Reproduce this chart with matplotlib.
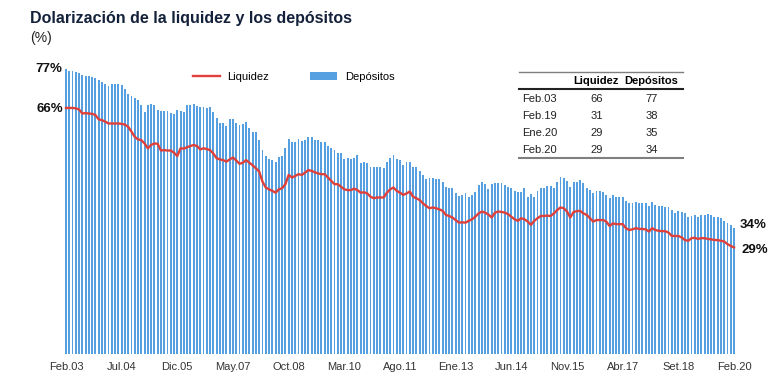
### Dolarizacion de la liquidez y los depositos (monthly, Feb.03 - Feb.20)

### IMPORTING LIBRARIES ###
import matplotlib
matplotlib.use("Agg")
import matplotlib.pyplot as plt
from matplotlib.lines import Line2D

### DATA ###
tick_labels = ["Feb.03", "Jul.04", "Dic.05", "May.07", "Oct.08", "Mar.10", "Ago.11",
               "Ene.13", "Jun.14", "Nov.15", "Abr.17", "Set.18", "Feb.20"]

# deposit dollarization (%), one value per month
depositos = [
    77.0, 76.6, 76.5, 76.3, 75.9, 75.3, 75.2, 75.1, 74.9, 74.7,
    74.0, 73.4, 73.1, 72.5, 73.1, 73.1, 73.1, 72.6, 71.7, 70.2,
    69.6, 69.2, 68.7, 67.2, 65.4, 67.4, 67.7, 67.2, 66.0, 65.7,
    65.7, 65.8, 65.2, 64.8, 66.0, 65.8, 65.4, 67.2, 67.4, 67.5,
    67.0, 66.8, 66.7, 66.4, 66.7, 65.4, 63.7, 62.5, 62.5, 61.6,
    63.4, 63.4, 62.3, 62.0, 62.1, 62.6, 61.2, 59.9, 60.1, 57.8,
    55.1, 53.5, 52.7, 52.3, 52.0, 53.3, 53.5, 55.8, 58.1, 57.4,
    57.2, 58.0, 57.7, 57.8, 58.7, 58.6, 57.8, 57.8, 57.4, 57.4,
    56.3, 55.6, 55.1, 54.4, 54.2, 52.6, 52.9, 52.6, 52.9, 53.8,
    51.7, 52.0, 51.7, 50.5, 50.6, 50.6, 50.6, 50.2, 52.0, 52.9,
    53.8, 52.6, 52.3, 51.1, 52.0, 52.0, 50.6, 50.5, 49.5, 48.4,
    47.2, 47.5, 47.5, 47.4, 47.3, 46.6, 45.2, 45.0, 44.9, 43.6,
    42.7, 43.0, 43.4, 42.3, 43.0, 43.7, 45.7, 46.4, 45.9, 44.5,
    45.9, 46.1, 46.1, 46.1, 45.7, 45.2, 44.9, 44.1, 43.9, 43.9,
    44.8, 42.5, 43.2, 42.3, 44.1, 44.8, 44.9, 45.4, 45.5, 45.0,
    46.6, 47.9, 47.7, 46.8, 45.2, 46.6, 46.5, 47.0, 46.1, 45.0,
    44.3, 43.4, 44.1, 44.1, 43.9, 43.0, 42.1, 43.0, 42.5, 42.3,
    42.3, 41.4, 40.7, 40.9, 41.2, 40.7, 40.7, 40.7, 40.1, 41.0,
    40.3, 40.1, 40.0, 39.8, 39.6, 38.9, 38.2, 38.6, 38.3, 38.0,
    37.1, 37.4, 37.6, 37.1, 37.7, 37.7, 37.8, 37.6, 37.1, 36.9,
    36.7, 35.9, 35.4, 35.0, 34.0,
]

# liquidity dollarization (%), one value per month
liquidez = [
    66.5, 66.5, 66.5, 66.4, 66.1, 65.0, 65.1, 65.0, 64.9, 64.6,
    63.4, 63.2, 62.8, 62.3, 62.3, 62.3, 62.3, 62.2, 62.0, 61.4,
    60.1, 58.7, 58.0, 57.8, 56.9, 55.6, 56.5, 56.9, 56.8, 55.0,
    55.1, 55.0, 55.0, 54.4, 53.5, 55.6, 55.5, 55.9, 56.2, 56.5,
    56.2, 55.3, 55.6, 55.4, 55.1, 54.2, 52.9, 52.6, 52.4, 52.0,
    52.6, 53.1, 52.3, 51.4, 51.7, 52.4, 51.7, 51.0, 50.2, 49.3,
    46.6, 45.0, 44.5, 44.1, 43.6, 44.5, 44.8, 45.9, 48.4, 47.7,
    48.1, 48.6, 48.4, 49.0, 49.7, 49.5, 49.1, 48.8, 48.6, 48.6,
    47.7, 46.8, 45.9, 45.9, 45.2, 44.5, 44.3, 44.3, 44.7, 44.3,
    43.6, 43.7, 43.4, 42.5, 42.1, 42.3, 42.3, 42.3, 43.6, 44.5,
    45.0, 44.1, 43.6, 43.0, 43.4, 43.9, 42.5, 42.1, 41.6, 40.7,
    40.0, 39.4, 39.6, 39.4, 39.1, 38.7, 37.6, 37.3, 36.9, 36.2,
    35.5, 35.6, 35.5, 36.0, 36.4, 37.1, 38.0, 38.5, 38.2, 37.7,
    36.9, 38.2, 38.5, 38.4, 38.2, 37.8, 37.1, 36.4, 36.0, 36.7,
    36.4, 35.8, 34.9, 36.0, 36.7, 37.3, 37.3, 37.4, 37.3, 38.0,
    38.9, 39.6, 39.4, 38.5, 36.9, 38.4, 38.6, 38.7, 38.0, 37.6,
    36.7, 35.8, 36.2, 36.2, 36.2, 35.8, 34.6, 35.3, 35.1, 35.1,
    35.1, 34.0, 33.5, 33.7, 34.0, 33.8, 33.8, 33.7, 33.1, 34.0,
    33.5, 33.3, 33.2, 33.2, 32.8, 31.9, 31.9, 31.9, 31.5, 30.8,
    30.6, 31.3, 31.4, 31.1, 31.3, 31.3, 31.1, 31.0, 30.8, 30.8,
    30.6, 30.4, 29.7, 29.2, 28.8,
]

table_rows = ["Feb.03", "Feb.19", "Ene.20", "Feb.20"]
table_liq = [66, 31, 29, 29]
table_dep = [77, 38, 35, 34]

### FIGURE SETUP ###
W, H = 780, 385
plt.rcParams['font.family'] = ['Liberation Sans', 'DejaVu Sans']

def fx(px):
    return px / W

def fy(py):
    return 1 - py / H

fig = plt.figure(figsize=(7.8, 3.85), dpi=100)
ax = fig.add_axes([fx(64), fy(354), (736 - 64) / W, (354 - 58) / H])

### BARS AND LINE ###
x = list(range(len(depositos)))
bars = ax.bar(x, depositos, width=0.58, color='#56a0e2', label='Depósitos')
line, = ax.plot(x, liquidez, color='#e0403a', lw=1.7, label='Liquidez')

ax.set_xlim(-0.6, len(x) - 0.4)
ax.set_ylim(0, 80)
ax.set_yticks([])
ax.set_xticks(range(0, len(x), 17))
ax.set_xticklabels(tick_labels, fontsize=8, color='#333333')
ax.tick_params(axis='x', length=0, pad=6)
for s in ax.spines.values():
    s.set_visible(False)

### END LABELS ###
lab = dict(fontsize=9.5, fontweight='bold', va='center', color='#111111')
ax.text(-1.0, depositos[0], f"{depositos[0]:.0f}%", ha='right', **lab)
ax.text(-1.0, liquidez[0] - 0.2, "66%", ha='right', **lab)
ax.text(len(x) + 0.6, depositos[-1] + 1.0, f"{depositos[-1]:.0f}%", ha='left', **lab)
ax.text(len(x) + 1.2, liquidez[-1] - 0.8, "29%", ha='left', **lab)

### LEGEND ###
fig.legend(handles=[line, bars], labels=['Liquidez', 'Depósitos'], ncol=2,
           loc='center left', bbox_to_anchor=(fx(193), fy(77)), frameon=False,
           fontsize=8, borderpad=0, borderaxespad=0, handlelength=2.4,
           handletextpad=0.7, columnspacing=3.7)

### TITLE ###
fig.text(fx(30), fy(18), "Dolarización de la liquidez y los depósitos", fontsize=11.5,
         fontweight='bold', color='#14213a', va='center', ha='left')
fig.text(fx(30), fy(38), "(%)", fontsize=10, color='#222222', va='center', ha='left')

### SUMMARY TABLE ###
fig.add_artist(Line2D([fx(519), fx(683)], [fy(72), fy(72)], color='#7f7f7f', lw=1.0))
fig.add_artist(Line2D([fx(519), fx(683)], [fy(89), fy(89)], color='#222222', lw=1.5))
fig.add_artist(Line2D([fx(519), fx(683)], [fy(158), fy(158)], color='#7f7f7f', lw=1.5))
fig.text(fx(596), fy(81), "Liquidez", fontsize=8, fontweight='bold', ha='center', va='center')
fig.text(fx(651), fy(81), "Depósitos", fontsize=8, fontweight='bold', ha='center', va='center')
for k, name in enumerate(table_rows):
    yy = fy(99 + 17 * k)
    fig.text(fx(522), yy, name, fontsize=8, ha='left', va='center', color='#222222')
    fig.text(fx(597), yy, str(table_liq[k]), fontsize=8, ha='center', va='center', color='#222222')
    fig.text(fx(652), yy, str(table_dep[k]), fontsize=8, ha='center', va='center', color='#222222')

fig.savefig('out.png', dpi=100)
